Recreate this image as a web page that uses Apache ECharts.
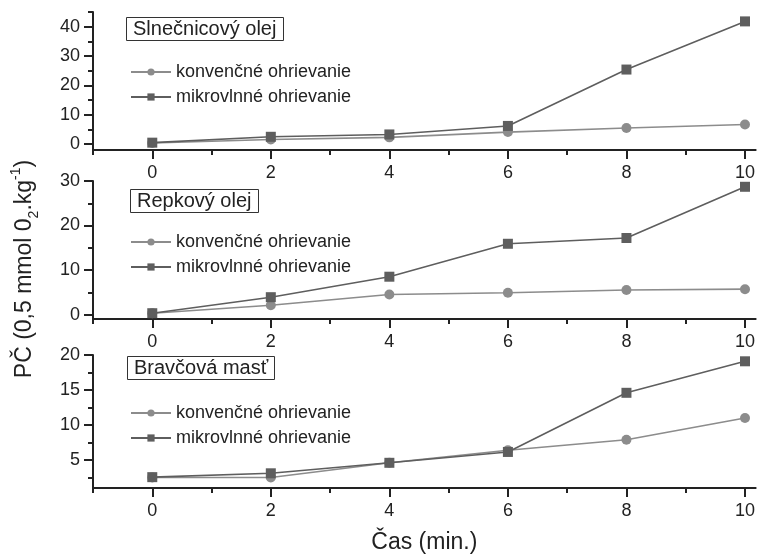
<!DOCTYPE html>
<html>
<head>
<meta charset="utf-8">
<script src="https://cdn.jsdelivr.net/npm/echarts@6/dist/echarts.min.js"></script>
<style>
html,body{margin:0;padding:0;background:#fff;}
#chart{width:758px;height:559px;}
</style>
</head>
<body>
<div id="chart"></div>
<script>
// ---- data ----
const times = [0, 2, 4, 6, 8, 10];
const panelTitles = ['Slnečnicový olej', 'Repkový olej', 'Bravčová masť'];
const seriesNames = ['konvenčné ohrievanie', 'mikrovlnné ohrievanie'];
const sunConv  = [0.4, 1.6, 2.3, 4.1, 5.5, 6.7];
const sunMicro = [0.5, 2.5, 3.3, 6.2, 25.4, 41.8];
const rapeConv  = [0.3, 2.1, 4.5, 4.9, 5.5, 5.7];
const rapeMicro = [0.3, 3.9, 8.5, 15.9, 17.2, 28.7];
const lardConv  = [2.5, 2.5, 4.6, 6.4, 7.9, 11.0];
const lardMicro = [2.55, 3.1, 4.6, 6.15, 14.6, 19.1];
const xMajorTicks = [0, 2, 4, 6, 8, 10];
const xMinorTicks = [-1, 1, 3, 5, 7, 9];
const yMajorTicks = [[0, 10, 20, 30, 40], [0, 10, 20, 30], [5, 10, 15, 20]];
const yMinorTicks = [[5, 15, 25, 35, 45], [5, 15, 25], [2.5, 7.5, 12.5, 17.5]];
const yRanges = [[-2, 45], [-1, 30], [1, 20]];
const xTitle = 'Čas (min.)';
const yTitle = 'PČ (0,5 mmol 0{sub|2}.kg{sup|-1})';

// ---- styling / layout ----
const FONT = '"Liberation Sans", Arial, Helvetica, sans-serif';
const AX = '#222';
const convColor = '#8c8c8c';
const microColor = '#5e5e5e';
const grids = [
  {left: 93, top: 12, width: 665, height: 138},
  {left: 93, top: 181, width: 665, height: 138},
  {left: 93, top: 355, width: 665, height: 133}
];
const titlePos = [{left: 126, top: 17}, {left: 130, top: 189}, {left: 127, top: 356}];
const legendTop = [63, 233, 404];
const panelData = [[sunConv, sunMicro], [rapeConv, rapeMicro], [lardConv, lardMicro]];

const xAxes = [], yAxes = [], series = [], legends = [], titles = [];
grids.forEach((g, i) => {
  xAxes.push({
    type: 'value', gridIndex: i, position: 'bottom', min: -1, max: 10.18,
    axisLine: {show: true, onZero: false, lineStyle: {color: AX, width: 2}},
    axisTick: {show: true, customValues: xMajorTicks, length: 9, lineStyle: {color: AX, width: 2}},
    axisLabel: {show: true, customValues: xMajorTicks, fontSize: 18, fontFamily: FONT, color: '#222', margin: 14},
    splitLine: {show: false},
    name: i === 2 ? xTitle : '', nameLocation: 'middle', nameGap: 43,
    nameTextStyle: {fontSize: 23, fontFamily: FONT, color: '#222'}
  });
  xAxes.push({
    type: 'value', gridIndex: i, position: 'bottom', min: -1, max: 10.18,
    axisLine: {show: false, onZero: false},
    axisTick: {show: true, customValues: xMinorTicks, length: 5, lineStyle: {color: AX, width: 2}},
    axisLabel: {show: false},
    splitLine: {show: false}
  });
  yAxes.push({
    type: 'value', gridIndex: i, position: 'left', min: yRanges[i][0], max: yRanges[i][1],
    axisLine: {show: true, onZero: false, lineStyle: {color: AX, width: 2}},
    axisTick: {show: true, customValues: yMajorTicks[i], length: 9, lineStyle: {color: AX, width: 2}},
    axisLabel: {show: true, customValues: yMajorTicks[i], fontSize: 18, fontFamily: FONT, color: '#222', margin: 13},
    splitLine: {show: false}
  });
  yAxes.push({
    type: 'value', gridIndex: i, position: 'left', min: yRanges[i][0], max: yRanges[i][1],
    axisLine: {show: false, onZero: false},
    axisTick: {show: true, customValues: yMinorTicks[i], length: 5, lineStyle: {color: AX, width: 2}},
    axisLabel: {show: false},
    splitLine: {show: false}
  });
  const [conv, micro] = panelData[i];
  series.push({
    name: seriesNames[0], type: 'line', xAxisIndex: i * 2, yAxisIndex: i * 2,
    data: times.map((t, k) => [t, conv[k]]),
    symbol: 'circle', symbolSize: 10, showAllSymbol: true,
    lineStyle: {color: convColor, width: 1.6}, itemStyle: {color: convColor},
    z: 2, silent: true, animation: false
  });
  series.push({
    name: seriesNames[1], type: 'line', xAxisIndex: i * 2, yAxisIndex: i * 2,
    data: times.map((t, k) => [t, micro[k]]),
    symbol: 'rect', symbolSize: 10, showAllSymbol: true,
    lineStyle: {color: microColor, width: 1.6}, itemStyle: {color: microColor},
    z: 3, silent: true, animation: false
  });
  legends.push({
    left: 130, top: legendTop[i], orient: 'vertical', padding: 0,
    itemWidth: 40, itemHeight: 9, itemGap: 7,
    data: seriesNames, selectedMode: false,
    textStyle: {fontSize: 18, fontFamily: FONT, color: '#222', lineHeight: 18}
  });
  titles.push({
    text: panelTitles[i], left: titlePos[i].left, top: titlePos[i].top,
    borderColor: '#333', borderWidth: 1, padding: [2, 7, 1, 7], backgroundColor: '#fff',
    textStyle: {fontSize: 20, fontWeight: 'normal', fontFamily: FONT, color: '#222', lineHeight: 21}
  });
});

const chart = echarts.init(document.getElementById('chart'), null, {renderer: 'canvas'});
chart.setOption({
  backgroundColor: '#fff',
  animation: false,
  textStyle: {fontFamily: FONT},
  grid: grids,
  xAxis: xAxes,
  yAxis: yAxes,
  series: series,
  legend: legends,
  title: titles,
  graphic: [{
    type: 'text', x: 25, y: 269, rotation: Math.PI / 2,
    style: {
      text: yTitle,
      font: '23px ' + FONT, fill: '#222', align: 'center', verticalAlign: 'middle',
      rich: {
        sub: {fontSize: 14, fontFamily: FONT, fill: '#222', verticalAlign: 'bottom', lineHeight: 32, padding: [11, 0, 0, 0]},
        sup: {fontSize: 14, fontFamily: FONT, fill: '#222', verticalAlign: 'top', lineHeight: 32, padding: [0, 0, 13, 0]}
      }
    }
  }]
});
</script>
</body>
</html>
